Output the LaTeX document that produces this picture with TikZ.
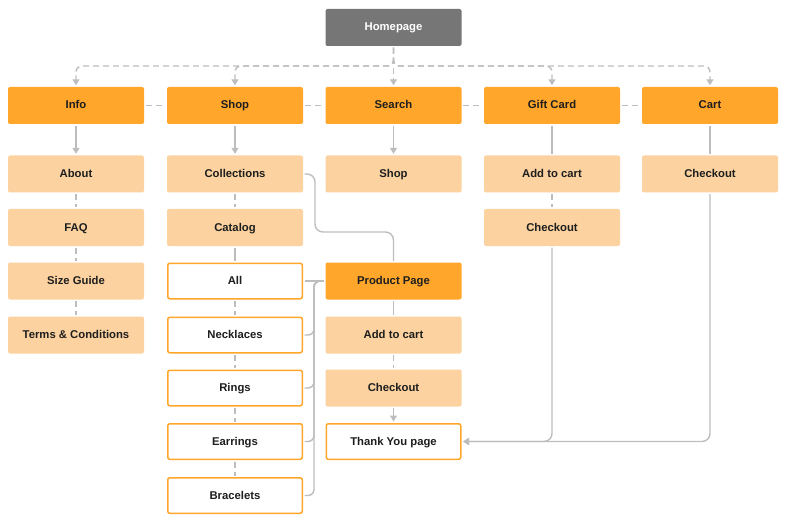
\documentclass[tikz,border=0pt]{standalone}
\usepackage{fontspec}
\setmainfont{Liberation Sans}
\usetikzlibrary{
	arrows.meta,									% arrow tips
	positioning,									% node placement
}
\definecolor{boxorange}{HTML}{FFA62B}
\definecolor{boxpeach}{HTML}{FCD3A0}
\definecolor{homegray}{HTML}{767676}
\definecolor{linegray}{HTML}{BDBDBD}
\definecolor{textdark}{HTML}{1E1E1E}

\begin{document}
\begin{tikzpicture}[x=1pt,y=-1pt,
		box/.style={rectangle, rounded corners=2pt, minimum width=136pt, minimum height=37pt, inner sep=0pt,
			text height=8pt, text depth=1pt,
			font=\fontsize{11.3}{13}\selectfont\bfseries, text=textdark},
		homebox/.style={box, fill=homegray, text=white},
		mainbox/.style={box, fill=boxorange},
		subbox/.style={box, fill=boxpeach},
		leafbox/.style={box, draw=boxorange, line width=1.5pt, fill=white, minimum width=134.5pt, minimum height=35.5pt},
		link/.style={draw=linegray, line width=1.4pt, shorten <=1.5pt, shorten >=1.5pt},
		dashlink/.style={link, dash pattern=on 6pt off 4pt},
		tip/.style={-{Triangle[length=6pt,width=7pt]}},
	]
	\useasboundingbox (0,0) rectangle (785,524);
	% top level
	\node[homebox] (home) at (393.5,27.5) {Homepage};
	\node[mainbox] (info) at (76,105.5) {Info};
	\node[mainbox] (shop) at (235,105.5) {Shop};
	\node[mainbox] (search) at (393.5,105.5) {Search};
	\node[mainbox] (gift) at (552,105.5) {Gift Card};
	\node[mainbox] (cart) at (710,105.5) {Cart};
	% info column
	\node[subbox] (about) at (76,174) {About};
	\node[subbox] (faq) at (76,227.5) {FAQ};
	\node[subbox] (sizeguide) at (76,281) {Size Guide};
	\node[subbox] (terms) at (76,335) {Terms \& Conditions};
	% shop column
	\node[subbox] (collections) at (235,174) {Collections};
	\node[subbox] (catalog) at (235,227.5) {Catalog};
	\node[leafbox] (all) at (235,281) {All};
	\node[leafbox] (necklaces) at (235,335) {Necklaces};
	\node[leafbox] (rings) at (235,388) {Rings};
	\node[leafbox] (earrings) at (235,441.5) {Earrings};
	\node[leafbox] (bracelets) at (235,495.5) {Bracelets};
	% search column
	\node[subbox] (searchshop) at (393.5,174) {Shop};
	\node[mainbox] (product) at (393.5,281) {Product Page};
	\node[subbox] (ppadd) at (393.5,335) {Add to cart};
	\node[subbox] (ppcheckout) at (393.5,388) {Checkout};
	\node[leafbox] (thankyou) at (393.5,441.5) {Thank You page};
	% gift card and cart columns
	\node[subbox] (giftadd) at (552,174) {Add to cart};
	\node[subbox] (giftcheckout) at (552,227.5) {Checkout};
	\node[subbox] (cartcheckout) at (710,174) {Checkout};

	\coordinate (hub) at (393.5,66);
	\coordinate (bend) at (315,232);
	\coordinate (rail) at (314,281);

	% homepage to sections
	\draw[dashlink,tip] (home) -- (search);
	\foreach \n in {info,shop,gift,cart}
		\draw[dashlink,tip,rounded corners=6pt] (home.south) -- (hub) -| (\n.north);
	\draw[dashlink] (info) -- (shop);
	\draw[dashlink] (shop) -- (search);
	\draw[dashlink] (search) -- (gift);
	\draw[dashlink] (gift) -- (cart);

	% down the columns
	\draw[link,tip] (info) -- (about);
	\draw[dashlink] (about) -- (faq);
	\draw[dashlink] (faq) -- (sizeguide);
	\draw[dashlink] (sizeguide) -- (terms);
	\draw[link,tip] (shop) -- (collections);
	\draw[dashlink] (collections) -- (catalog);
	\draw[link] (catalog) -- (all);
	\draw[dashlink] (all) -- (necklaces);
	\draw[dashlink] (necklaces) -- (rings);
	\draw[dashlink] (rings) -- (earrings);
	\draw[dashlink] (earrings) -- (bracelets);
	\draw[link,tip] (search) -- (searchshop);
	\draw[link] (gift) -- (giftadd);
	\draw[dashlink] (giftadd) -- (giftcheckout);
	\draw[link] (cart) -- (cartcheckout);

	% product page
	\draw[link,rounded corners=8pt] (collections.east) -| (bend) -| (product.north);
	\draw[link] (all) -- (product);
	\foreach \n in {necklaces,rings,earrings,bracelets}
		\draw[link,rounded corners=6pt] (\n.east) -| (rail) -- (product.west);
	\draw[link] (product) -- (ppadd);
	\draw[dashlink] (ppadd) -- (ppcheckout);
	\draw[link,tip] (ppcheckout) -- (thankyou);
	\draw[link,tip,rounded corners=8pt] (giftcheckout.south) |- (thankyou.east);
	\draw[link,tip,rounded corners=8pt] (cartcheckout.south) |- (thankyou.east);
\end{tikzpicture}
\end{document}
